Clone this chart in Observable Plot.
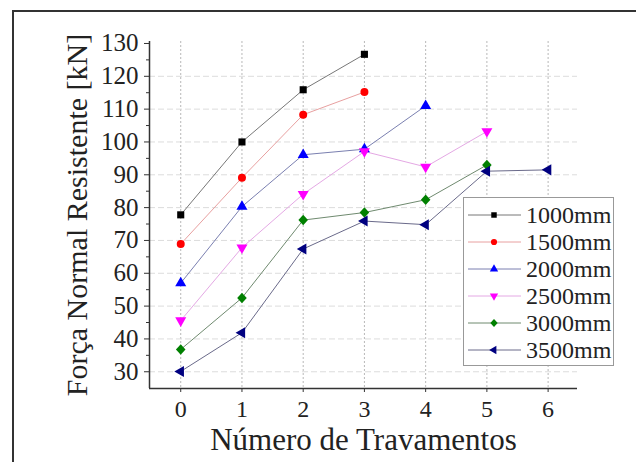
<!DOCTYPE html>
<html><head><meta charset="utf-8">
<script src="https://cdn.jsdelivr.net/npm/d3@7"></script>
<script src="https://cdn.jsdelivr.net/npm/@observablehq/plot@0.6"></script>
<style>
html,body{margin:0;padding:0;background:#fff;}
#wrap{position:relative;width:636px;height:462px;overflow:hidden;}
#border{position:absolute;left:12px;top:10px;width:700px;height:500px;border-top:2px solid #333;border-left:2px solid #333;}
#chart{position:absolute;left:0;top:0;}
#legend{position:absolute;left:463px;top:197px;width:149px;height:167px;border:1px solid #999;background:#fff;}
</style></head><body>
<div id="wrap"><div id="border"></div><div id="chart"></div><div id="legend"></div></div>
<script>
const travamentos = [0, 1, 2, 3, 4, 5, 6];
const series = ["1000mm", "1500mm", "2000mm", "2500mm", "3000mm", "3500mm"];
const f1000 = [77.8, 100.0, 115.9, 126.7];
const f1500 = [68.9, 89.1, 108.3, 115.2];
const f2000 = [57.0, 80.3, 96.1, 97.8, 111.0];
const f2500 = [45.6, 67.8, 84.1, 97.1, 92.4, 103.2];
const f3000 = [36.8, 52.5, 76.2, 78.5, 82.4, 93.0];
const f3500 = [30.1, 41.9, 67.4, 75.9, 74.8, 91.1, 91.5];
const yTicks = [30, 40, 50, 60, 70, 80, 90, 100, 110, 120, 130];
const yMinor = [35, 45, 55, 65, 75, 85, 95, 105, 115, 125];
const yGrid = [30, 40, 50, 60, 70, 80, 90, 100, 110, 120];
const xLabel = "Número de Travamentos";
const yLabel = "Força Normal Resistente [kN]";

const markerColors = ["#000000", "#ff0000", "#0000ff", "#ff00ff", "#008000", "#000080"];
const lineColors = ["#777777", "#e8a0a0", "#7a7fb0", "#e4a8e4", "#6f8a6f", "#6a6a8a"];

const triDown = {draw(ctx, size) {
  const y = -Math.sqrt(size / (Math.sqrt(3) * 3));
  ctx.moveTo(0, -y * 2); ctx.lineTo(-Math.sqrt(3) * y, y); ctx.lineTo(Math.sqrt(3) * y, y); ctx.closePath();
}};
const triLeft = {draw(ctx, size) {
  const y = -Math.sqrt(size / (Math.sqrt(3) * 3));
  ctx.moveTo(y * 2, 0); ctx.lineTo(-y, -Math.sqrt(3) * y); ctx.lineTo(-y, Math.sqrt(3) * y); ctx.closePath();
}};
const diamond = {draw(ctx, size) {
  const w = Math.sqrt(size / 2.2), h = w * 1.1;
  ctx.moveTo(0, -h); ctx.lineTo(w, 0); ctx.lineTo(0, h); ctx.lineTo(-w, 0); ctx.closePath();
}};
const symbols = [d3.symbolSquare, d3.symbolCircle, d3.symbolTriangle, triDown, diamond, triLeft];
const radii = [4.0, 4.0, 4.1, 4.1, 4.0, 4.1];

const values = [f1000, f1500, f2000, f2500, f3000, f3500];
const data = series.map((s, i) => values[i].map((v, j) => ({serie: s, x: travamentos[j], y: v})));

const font = "'Liberation Serif', 'Times New Roman', serif";
const xDomain = [-0.51, 6.48];
const yDomain = [24.9, 130.6];

const marks = [
  Plot.ruleX(travamentos, {stroke: "#b8b8b8", strokeDasharray: "2,2", strokeWidth: 1}),
  Plot.ruleY(yGrid, {stroke: "#dcdcdc", strokeDasharray: "6,3", strokeWidth: 1}),
  Plot.ruleX([xDomain[0]], {stroke: "#333", strokeWidth: 1.5}),
  Plot.ruleY([yDomain[0]], {stroke: "#333", strokeWidth: 1.5}),
  Plot.axisY(yTicks, {tickSize: 5, tickPadding: 6, fontSize: 25, fontFamily: font, label: null, stroke: "#333", color: "#222"}),
  Plot.axisY(yMinor, {tickSize: 3, tickFormat: () => "", label: null, stroke: "#333"}),
  Plot.axisX(travamentos, {tickSize: 4, tickPadding: 7, fontSize: 24, fontFamily: font, label: null, stroke: "#333", color: "#222"}),
  Plot.text([yLabel], {text: d => d, frameAnchor: "left", dx: -72, rotate: -90, textAnchor: "middle", lineAnchor: "middle", fontSize: 30, fontFamily: font, fill: "#222"}),
  Plot.text([xLabel], {text: d => d, frameAnchor: "bottom", dy: 52, textAnchor: "middle", lineAnchor: "middle", fontSize: 31, fontFamily: font, fill: "#222"})
];
data.forEach((d, i) => {
  marks.push(Plot.line(d, {x: "x", y: "y", stroke: lineColors[i], strokeWidth: 1}));
});
data.forEach((d, i) => {
  marks.push(Plot.dot(d, {x: "x", y: "y", fill: markerColors[i], stroke: "none", symbol: symbols[i], r: radii[i]}));
});

const chart = Plot.plot({
  width: 636, height: 462,
  marginLeft: 149, marginRight: 59, marginTop: 41, marginBottom: 74,
  style: {fontFamily: font, background: "transparent", overflow: "visible"},
  x: {domain: xDomain},
  y: {domain: yDomain},
  marks
});
document.getElementById("chart").appendChild(chart);

// legend
const lg = d3.select("#legend").append("svg").attr("width", 149).attr("height", 167)
  .style("font-family", font);
series.forEach((s, i) => {
  const cy = 17 + i * 27;
  const g = lg.append("g").attr("transform", `translate(0,${cy})`);
  g.append("line").attr("x1", 4).attr("x2", 57).attr("y1", 0).attr("y2", 0)
    .attr("stroke", lineColors[i]).attr("stroke-width", 1);
  g.append("path").attr("transform", "translate(30,0)")
    .attr("d", d3.symbol(symbols[i], 30)()).attr("fill", markerColors[i]);
  g.append("text").attr("x", 62).attr("y", 0).attr("dy", "0.35em")
    .attr("font-size", 24).attr("fill", "#222").text(s);
});
</script>
</body></html>
